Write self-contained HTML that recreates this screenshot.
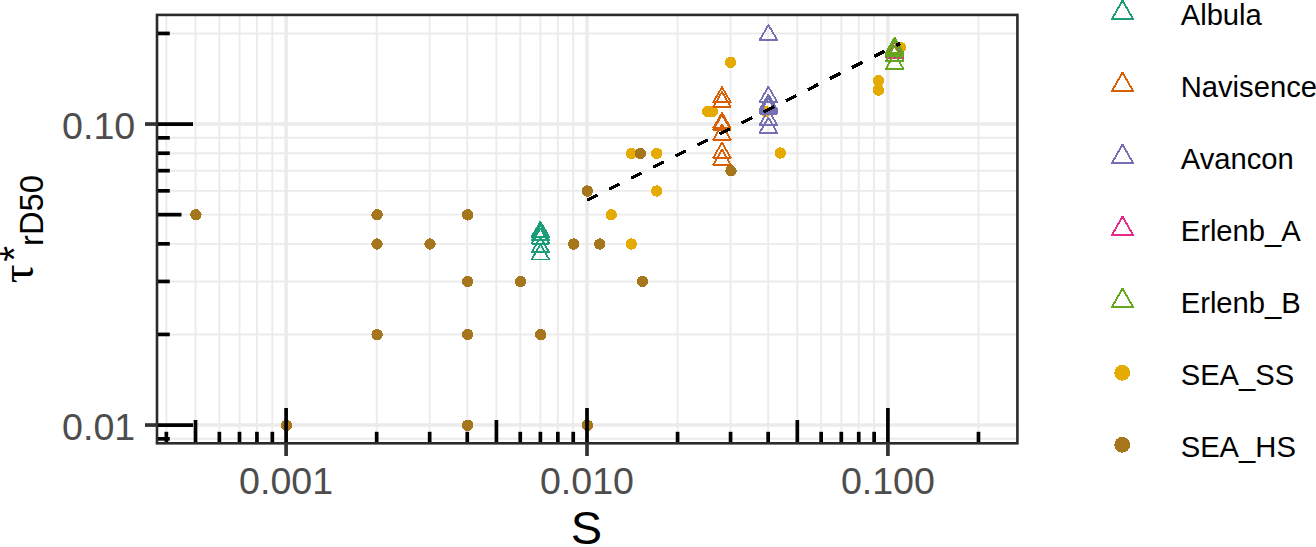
<!DOCTYPE html>
<html><head><meta charset="utf-8"><title>plot</title>
<style>html,body{margin:0;padding:0;background:#fff;}svg{display:block;}</style>
</head><body>
<svg width="1316" height="547" viewBox="0 0 1316 547">
<defs><clipPath id="pc"><rect x="157.9" y="15.8" width="859.3" height="426.6"/></clipPath></defs>
<rect width="1316" height="547" fill="#fff"/>
<g clip-path="url(#pc)" fill="none" stroke="#EBEBEB">
<line x1="166.36" y1="0" x2="166.36" y2="547" stroke-width="1.9"/>
<line x1="195.52" y1="0" x2="195.52" y2="547" stroke-width="1.9"/>
<line x1="219.35" y1="0" x2="219.35" y2="547" stroke-width="1.9"/>
<line x1="239.49" y1="0" x2="239.49" y2="547" stroke-width="1.9"/>
<line x1="256.94" y1="0" x2="256.94" y2="547" stroke-width="1.9"/>
<line x1="272.33" y1="0" x2="272.33" y2="547" stroke-width="1.9"/>
<line x1="376.68" y1="0" x2="376.68" y2="547" stroke-width="1.9"/>
<line x1="429.67" y1="0" x2="429.67" y2="547" stroke-width="1.9"/>
<line x1="467.26" y1="0" x2="467.26" y2="547" stroke-width="1.9"/>
<line x1="496.42" y1="0" x2="496.42" y2="547" stroke-width="1.9"/>
<line x1="520.25" y1="0" x2="520.25" y2="547" stroke-width="1.9"/>
<line x1="540.39" y1="0" x2="540.39" y2="547" stroke-width="1.9"/>
<line x1="557.84" y1="0" x2="557.84" y2="547" stroke-width="1.9"/>
<line x1="573.23" y1="0" x2="573.23" y2="547" stroke-width="1.9"/>
<line x1="677.58" y1="0" x2="677.58" y2="547" stroke-width="1.9"/>
<line x1="730.57" y1="0" x2="730.57" y2="547" stroke-width="1.9"/>
<line x1="768.16" y1="0" x2="768.16" y2="547" stroke-width="1.9"/>
<line x1="797.32" y1="0" x2="797.32" y2="547" stroke-width="1.9"/>
<line x1="821.15" y1="0" x2="821.15" y2="547" stroke-width="1.9"/>
<line x1="841.29" y1="0" x2="841.29" y2="547" stroke-width="1.9"/>
<line x1="858.74" y1="0" x2="858.74" y2="547" stroke-width="1.9"/>
<line x1="874.13" y1="0" x2="874.13" y2="547" stroke-width="1.9"/>
<line x1="978.48" y1="0" x2="978.48" y2="547" stroke-width="1.9"/>
<line x1="150" y1="438.82" x2="1020" y2="438.82" stroke-width="1.9"/>
<line x1="150" y1="334.44" x2="1020" y2="334.44" stroke-width="1.9"/>
<line x1="150" y1="281.44" x2="1020" y2="281.44" stroke-width="1.9"/>
<line x1="150" y1="243.83" x2="1020" y2="243.83" stroke-width="1.9"/>
<line x1="150" y1="214.66" x2="1020" y2="214.66" stroke-width="1.9"/>
<line x1="150" y1="190.83" x2="1020" y2="190.83" stroke-width="1.9"/>
<line x1="150" y1="170.68" x2="1020" y2="170.68" stroke-width="1.9"/>
<line x1="150" y1="153.22" x2="1020" y2="153.22" stroke-width="1.9"/>
<line x1="150" y1="137.82" x2="1020" y2="137.82" stroke-width="1.9"/>
<line x1="150" y1="33.44" x2="1020" y2="33.44" stroke-width="1.9"/>
<line x1="286.10" y1="0" x2="286.10" y2="547" stroke-width="3.6"/>
<line x1="587.00" y1="0" x2="587.00" y2="547" stroke-width="3.6"/>
<line x1="887.90" y1="0" x2="887.90" y2="547" stroke-width="3.6"/>
<line x1="150" y1="425.05" x2="1020" y2="425.05" stroke-width="3.6"/>
<line x1="150" y1="124.05" x2="1020" y2="124.05" stroke-width="3.6"/>
</g>
<g clip-path="url(#pc)" shape-rendering="crispEdges">
<circle cx="611.23" cy="214.86" r="5.7" fill="#E6AB02"/>
<circle cx="631.37" cy="244.03" r="5.7" fill="#E6AB02"/>
<circle cx="631.37" cy="153.42" r="5.7" fill="#E6AB02"/>
<circle cx="656.74" cy="153.42" r="5.7" fill="#E6AB02"/>
<circle cx="656.74" cy="191.03" r="5.7" fill="#E6AB02"/>
<circle cx="707.70" cy="111.40" r="5.7" fill="#E6AB02"/>
<circle cx="712.30" cy="111.40" r="5.7" fill="#E6AB02"/>
<circle cx="730.60" cy="62.30" r="5.7" fill="#E6AB02"/>
<circle cx="780.30" cy="153.00" r="5.7" fill="#E6AB02"/>
<circle cx="878.50" cy="80.60" r="5.7" fill="#E6AB02"/>
<circle cx="878.50" cy="90.10" r="5.7" fill="#E6AB02"/>
<circle cx="900.50" cy="47.40" r="5.7" fill="#E6AB02"/>
<circle cx="765.60" cy="111.50" r="5.7" fill="#E6AB02"/>
<circle cx="195.92" cy="214.86" r="5.7" fill="#A6761D"/>
<circle cx="286.50" cy="425.25" r="5.7" fill="#A6761D"/>
<circle cx="377.08" cy="214.86" r="5.7" fill="#A6761D"/>
<circle cx="377.08" cy="244.03" r="5.7" fill="#A6761D"/>
<circle cx="377.08" cy="334.64" r="5.7" fill="#A6761D"/>
<circle cx="430.07" cy="244.03" r="5.7" fill="#A6761D"/>
<circle cx="467.66" cy="214.86" r="5.7" fill="#A6761D"/>
<circle cx="467.66" cy="281.64" r="5.7" fill="#A6761D"/>
<circle cx="467.66" cy="334.64" r="5.7" fill="#A6761D"/>
<circle cx="467.66" cy="425.25" r="5.7" fill="#A6761D"/>
<circle cx="520.65" cy="281.64" r="5.7" fill="#A6761D"/>
<circle cx="540.79" cy="334.64" r="5.7" fill="#A6761D"/>
<circle cx="573.63" cy="244.03" r="5.7" fill="#A6761D"/>
<circle cx="587.40" cy="191.03" r="5.7" fill="#A6761D"/>
<circle cx="587.40" cy="425.25" r="5.7" fill="#A6761D"/>
<circle cx="599.86" cy="244.03" r="5.7" fill="#A6761D"/>
<circle cx="640.39" cy="153.42" r="5.7" fill="#A6761D"/>
<circle cx="730.97" cy="170.88" r="5.7" fill="#A6761D"/>
<circle cx="642.50" cy="281.40" r="5.7" fill="#A6761D"/>
<polygon points="540.40,221.64 549.15,236.80 531.65,236.80" fill="none" stroke="#1B9E77" stroke-width="1.8" stroke-linejoin="round"/>
<polygon points="540.40,225.04 549.15,240.20 531.65,240.20" fill="none" stroke="#1B9E77" stroke-width="1.8" stroke-linejoin="round"/>
<polygon points="540.40,228.44 549.15,243.60 531.65,243.60" fill="none" stroke="#1B9E77" stroke-width="1.8" stroke-linejoin="round"/>
<polygon points="540.40,237.14 549.15,252.30 531.65,252.30" fill="none" stroke="#1B9E77" stroke-width="1.8" stroke-linejoin="round"/>
<polygon points="540.40,244.34 549.15,259.50 531.65,259.50" fill="none" stroke="#1B9E77" stroke-width="1.8" stroke-linejoin="round"/>
<polygon points="722.00,87.04 730.75,102.20 713.25,102.20" fill="none" stroke="#D95F02" stroke-width="1.8" stroke-linejoin="round"/>
<polygon points="722.00,91.84 730.75,107.00 713.25,107.00" fill="none" stroke="#D95F02" stroke-width="1.8" stroke-linejoin="round"/>
<polygon points="722.00,112.84 730.75,128.00 713.25,128.00" fill="none" stroke="#D95F02" stroke-width="1.8" stroke-linejoin="round"/>
<polygon points="722.00,114.84 730.75,130.00 713.25,130.00" fill="none" stroke="#D95F02" stroke-width="1.8" stroke-linejoin="round"/>
<polygon points="722.00,124.64 730.75,139.80 713.25,139.80" fill="none" stroke="#D95F02" stroke-width="1.8" stroke-linejoin="round"/>
<polygon points="722.00,142.64 730.75,157.80 713.25,157.80" fill="none" stroke="#D95F02" stroke-width="1.8" stroke-linejoin="round"/>
<polygon points="722.00,149.64 730.75,164.80 713.25,164.80" fill="none" stroke="#D95F02" stroke-width="1.8" stroke-linejoin="round"/>
<polygon points="768.40,24.84 777.15,40.00 759.65,40.00" fill="none" stroke="#7570B3" stroke-width="1.8" stroke-linejoin="round"/>
<polygon points="768.40,86.74 777.15,101.90 759.65,101.90" fill="none" stroke="#7570B3" stroke-width="1.8" stroke-linejoin="round"/>
<polygon points="768.40,94.44 777.15,109.60 759.65,109.60" fill="none" stroke="#7570B3" stroke-width="1.8" stroke-linejoin="round"/>
<polygon points="768.40,95.94 777.15,111.10 759.65,111.10" fill="none" stroke="#7570B3" stroke-width="1.8" stroke-linejoin="round"/>
<polygon points="768.40,97.34 777.15,112.50 759.65,112.50" fill="none" stroke="#7570B3" stroke-width="1.8" stroke-linejoin="round"/>
<polygon points="768.40,98.44 777.15,113.60 759.65,113.60" fill="none" stroke="#7570B3" stroke-width="1.8" stroke-linejoin="round"/>
<polygon points="768.40,109.84 777.15,125.00 759.65,125.00" fill="none" stroke="#7570B3" stroke-width="1.8" stroke-linejoin="round"/>
<polygon points="768.40,117.54 777.15,132.70 759.65,132.70" fill="none" stroke="#7570B3" stroke-width="1.8" stroke-linejoin="round"/>
<polygon points="894.60,42.54 903.35,57.70 885.85,57.70" fill="none" stroke="#E7298A" stroke-width="1.8" stroke-linejoin="round"/>
<polygon points="894.60,37.64 903.35,52.80 885.85,52.80" fill="none" stroke="#66A61E" stroke-width="1.8" stroke-linejoin="round"/>
<polygon points="894.60,39.44 903.35,54.60 885.85,54.60" fill="none" stroke="#66A61E" stroke-width="1.8" stroke-linejoin="round"/>
<polygon points="894.60,41.04 903.35,56.20 885.85,56.20" fill="none" stroke="#66A61E" stroke-width="1.8" stroke-linejoin="round"/>
<polygon points="894.60,45.64 903.35,60.80 885.85,60.80" fill="none" stroke="#66A61E" stroke-width="1.8" stroke-linejoin="round"/>
<polygon points="894.60,53.64 903.35,68.80 885.85,68.80" fill="none" stroke="#66A61E" stroke-width="1.8" stroke-linejoin="round"/>
<line x1="587.0" y1="200.4" x2="900.2" y2="43.4" stroke="#000" stroke-width="3.3" stroke-dasharray="11.8 12.9"/>
</g>
<g stroke="#000" stroke-width="3.7">
<line x1="166.36" y1="443.3" x2="166.36" y2="431.80"/>
<line x1="195.52" y1="443.3" x2="195.52" y2="420.00"/>
<line x1="219.35" y1="443.3" x2="219.35" y2="431.80"/>
<line x1="239.49" y1="443.3" x2="239.49" y2="431.80"/>
<line x1="256.94" y1="443.3" x2="256.94" y2="431.80"/>
<line x1="272.33" y1="443.3" x2="272.33" y2="431.80"/>
<line x1="286.10" y1="443.3" x2="286.10" y2="408.00"/>
<line x1="376.68" y1="443.3" x2="376.68" y2="431.80"/>
<line x1="429.67" y1="443.3" x2="429.67" y2="431.80"/>
<line x1="467.26" y1="443.3" x2="467.26" y2="431.80"/>
<line x1="496.42" y1="443.3" x2="496.42" y2="420.00"/>
<line x1="520.25" y1="443.3" x2="520.25" y2="431.80"/>
<line x1="540.39" y1="443.3" x2="540.39" y2="431.80"/>
<line x1="557.84" y1="443.3" x2="557.84" y2="431.80"/>
<line x1="573.23" y1="443.3" x2="573.23" y2="431.80"/>
<line x1="157" y1="438.82" x2="169.80" y2="438.82"/>
<line x1="587.00" y1="443.3" x2="587.00" y2="408.00"/>
<line x1="157" y1="425.05" x2="193.00" y2="425.05"/>
<line x1="677.58" y1="443.3" x2="677.58" y2="431.80"/>
<line x1="157" y1="334.44" x2="169.80" y2="334.44"/>
<line x1="730.57" y1="443.3" x2="730.57" y2="431.80"/>
<line x1="157" y1="281.44" x2="169.80" y2="281.44"/>
<line x1="768.16" y1="443.3" x2="768.16" y2="431.80"/>
<line x1="157" y1="243.83" x2="169.80" y2="243.83"/>
<line x1="797.32" y1="443.3" x2="797.32" y2="420.00"/>
<line x1="157" y1="214.66" x2="181.50" y2="214.66"/>
<line x1="821.15" y1="443.3" x2="821.15" y2="431.80"/>
<line x1="157" y1="190.83" x2="169.80" y2="190.83"/>
<line x1="841.29" y1="443.3" x2="841.29" y2="431.80"/>
<line x1="157" y1="170.68" x2="169.80" y2="170.68"/>
<line x1="858.74" y1="443.3" x2="858.74" y2="431.80"/>
<line x1="157" y1="153.22" x2="169.80" y2="153.22"/>
<line x1="874.13" y1="443.3" x2="874.13" y2="431.80"/>
<line x1="157" y1="137.82" x2="169.80" y2="137.82"/>
<line x1="887.90" y1="443.3" x2="887.90" y2="408.00"/>
<line x1="157" y1="124.05" x2="193.00" y2="124.05"/>
<line x1="978.48" y1="443.3" x2="978.48" y2="431.80"/>
<line x1="157" y1="33.44" x2="169.80" y2="33.44"/>
</g>
<rect x="157" y="14.9" width="860.4" height="428.4" fill="none" stroke="#2b2b2b" stroke-width="2.6"/>
<g stroke="#333" stroke-width="3.7">
<line x1="286.10" y1="443" x2="286.10" y2="456"/>
<line x1="587.00" y1="443" x2="587.00" y2="456"/>
<line x1="887.90" y1="443" x2="887.90" y2="456"/>
<line x1="145" y1="425.05" x2="157" y2="425.05"/>
<line x1="145" y1="124.05" x2="157" y2="124.05"/>
</g>
<g font-family="Liberation Sans, Arial, sans-serif" font-size="37.6" fill="#4D4D4D">
<text x="286.10" y="494.2" text-anchor="middle">0.001</text>
<text x="587.00" y="494.2" text-anchor="middle">0.010</text>
<text x="887.90" y="494.2" text-anchor="middle">0.100</text>
<text x="135.2" y="439.95" text-anchor="end">0.01</text>
<text x="135.2" y="138.95" text-anchor="end">0.10</text>
</g>
<text x="586.5" y="544.3" text-anchor="middle" font-family="Liberation Sans, Arial, sans-serif" font-size="47" fill="#000">S</text>
<g transform="translate(33.3,282.3) rotate(-90)" font-family="Liberation Sans, Arial, sans-serif" fill="#000">
<text x="-1.0" y="0" font-size="46.7" font-family="Liberation Serif, serif">τ</text>
<text x="20.45" y="-4.95" font-size="40.8">*</text>
<text x="36.3" y="9.7" font-size="32.8">rD50</text>
</g>
<g shape-rendering="crispEdges">
<polygon points="1122.50,0.59 1133.07,18.90 1111.93,18.90" fill="none" stroke="#1B9E77" stroke-width="1.9" stroke-linejoin="round"/>
<polygon points="1122.50,72.59 1133.07,90.90 1111.93,90.90" fill="none" stroke="#D95F02" stroke-width="1.9" stroke-linejoin="round"/>
<polygon points="1122.50,144.59 1133.07,162.90 1111.93,162.90" fill="none" stroke="#7570B3" stroke-width="1.9" stroke-linejoin="round"/>
<polygon points="1122.50,216.59 1133.07,234.90 1111.93,234.90" fill="none" stroke="#E7298A" stroke-width="1.9" stroke-linejoin="round"/>
<polygon points="1122.50,288.59 1133.07,306.90 1111.93,306.90" fill="none" stroke="#66A61E" stroke-width="1.9" stroke-linejoin="round"/>
<circle cx="1122.2" cy="372.80" r="7.9" fill="#E6AB02"/>
<circle cx="1122.2" cy="444.80" r="7.9" fill="#A6761D"/>
</g>
<text x="1180.7" y="24.95" font-family="Liberation Sans, Arial, sans-serif" font-size="29.2" fill="#000">Albula</text>
<text x="1180.7" y="97.00" font-family="Liberation Sans, Arial, sans-serif" font-size="29.2" fill="#000">Navisence</text>
<text x="1180.7" y="169.05" font-family="Liberation Sans, Arial, sans-serif" font-size="29.2" fill="#000">Avancon</text>
<text x="1180.7" y="241.10" font-family="Liberation Sans, Arial, sans-serif" font-size="29.2" fill="#000">Erlenb_A</text>
<text x="1180.7" y="313.15" font-family="Liberation Sans, Arial, sans-serif" font-size="29.2" fill="#000">Erlenb_B</text>
<text x="1180.7" y="385.20" font-family="Liberation Sans, Arial, sans-serif" font-size="29.2" fill="#000">SEA_SS</text>
<text x="1180.7" y="457.25" font-family="Liberation Sans, Arial, sans-serif" font-size="29.2" fill="#000">SEA_HS</text>
</svg>
</body></html>
